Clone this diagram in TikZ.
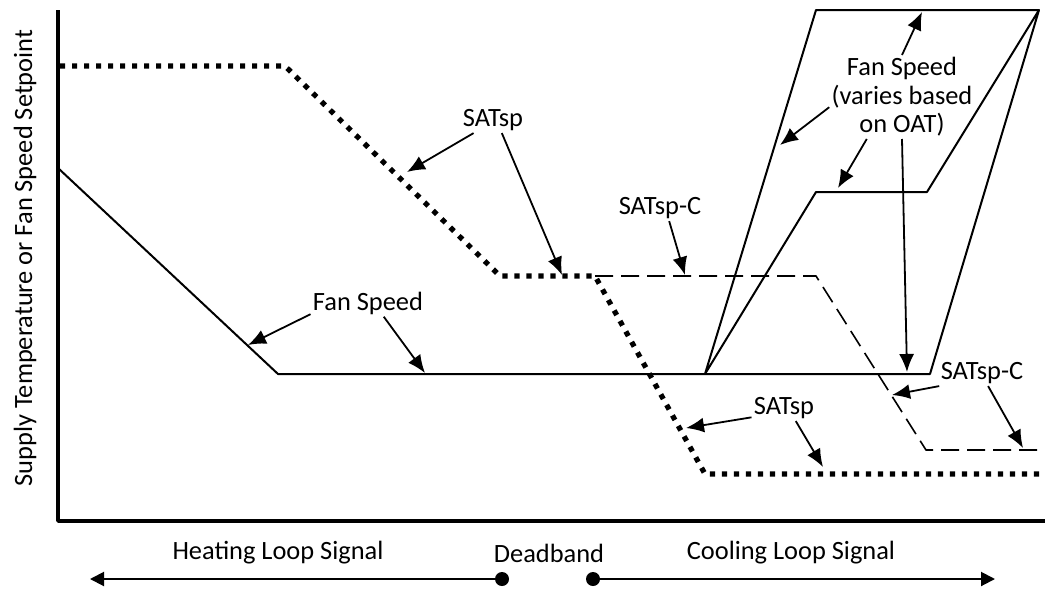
\documentclass[tikz,border=0pt]{standalone}
\usepackage{fontspec}
\setmainfont{Carlito}
\usepackage{tikz}
\usetikzlibrary{arrows.meta}
\usetikzlibrary{positioning}

\begin{document}
\begin{tikzpicture}[x=0.5pt,y=-0.5pt,line join=round,
	fan line/.style={line width=1pt},
	sat line/.style={line width=2.6pt,dash pattern=on 2.6pt off 3.4pt},
	satc line/.style={line width=0.8pt,dash pattern=on 9pt off 4pt},
	callout/.style={line width=0.9pt,-{Latex[length=9pt,width=7.5pt]}},
	signal/.style={line width=1pt,-{Triangle[length=7pt,width=7pt]}},
	lbl/.style={font=\fontsize{13.2}{14.3}\selectfont,inner sep=1pt,align=center},
	end dot/.style={circle,fill,inner sep=0pt,minimum size=7pt}]

	\useasboundingbox (0,0) rectangle (1045,590);

	% axes
	\draw[line width=1.8pt] (58,10) -- (58,521) -- (1045,521);
	\node[lbl,rotate=90] (ylab) at (25,258) {Supply Temperature or Fan Speed Setpoint};

	% fan speed corners
	\coordinate (f0) at (58,168);
	\coordinate (f1) at (278,374);
	\coordinate (f2) at (705,374);
	\coordinate (f3) at (930,374);
	\coordinate (f4) at (1039,10);
	\coordinate (f5) at (816,10);
	\coordinate (f6) at (816,192);
	\coordinate (f7) at (927,192);
	\draw[fan line] (f0) -- (f1) -- (f3) -- (f4) -- (f5) -- (f2) -- (f6) -- (f7) -- (f4);

	% SATsp
	\coordinate (s0) at (60,66);
	\coordinate (s1) at (285,66);
	\coordinate (s2) at (500,276);
	\coordinate (s3) at (595,276);
	\coordinate (s4) at (705,474);
	\coordinate (s5) at (1040,474);
	\draw[sat line] (s0) -- (s1) -- (s2) -- (s3) -- (s4) -- (s5);

	% SATsp-C
	\coordinate (c1) at (816,276);
	\coordinate (c2) at (926,450);
	\coordinate (c3) at (1040,450);
	\draw[satc line] (s3) -- (c1) -- (c2) -- (c3);

	% labels
	\node[lbl] (satspA) at (493,120) {SATsp};
	\node[lbl] (satspcA) at (660,208) {SATsp-C};
	\node[lbl] (fanA) at (368,303) {Fan Speed};
	\node[lbl] (fanB) at (902,97) {Fan Speed\\(varies based\\on OAT)};
	\node[lbl] (satspcB) at (982,373) {SATsp-C};
	\node[lbl] (satspB) at (784,408) {SATsp};

	% arrow tips
	\coordinate (a1) at (407,172);
	\coordinate (a2) at (562,275);
	\coordinate (a3) at (685,275);
	\coordinate (a4) at (248,345);
	\coordinate (a5) at (425,373);
	\coordinate (a6) at (922,12);
	\coordinate (a7) at (780,145);
	\coordinate (a8) at (838,188);
	\coordinate (a9) at (907,372);
	\coordinate (a10) at (892,395);
	\coordinate (a11) at (1023,448);
	\coordinate (a12) at (686,428);
	\coordinate (a13) at (823,467);

	\path[callout]
		(satspA.214) edge (a1)
		(satspA.304) edge (a2)
		(satspcA.305) edge (a3)
		(fanA.191) edge (a4)
		(fanA.319) edge (a5)
		(fanB.north) edge (a6)
		(fanB.188) edge (a7)
		(fanB.230) edge (a8)
		(fanB.south) edge (a9)
		(satspcB.197) edge (a10)
		(satspcB.295) edge (a11)
		(satspB.196) edge (a12)
		(satspB.312) edge (a13);

	% loop signals
	\node[lbl] (heat) at (278,553) {Heating Loop Signal};
	\node[lbl] (dead) at (549,553) {Deadband};
	\node[lbl] (cool) at (791,553) {Cooling Loop Signal};
	\node[end dot] (hdot) at (502,579) {};
	\node[end dot] (cdot) at (593,579) {};
	\coordinate (hend) at (90,579);
	\coordinate (cend) at (995,579);
	\path[signal]
		(hdot) edge (hend)
		(cdot) edge (cend);

\end{tikzpicture}
\end{document}
